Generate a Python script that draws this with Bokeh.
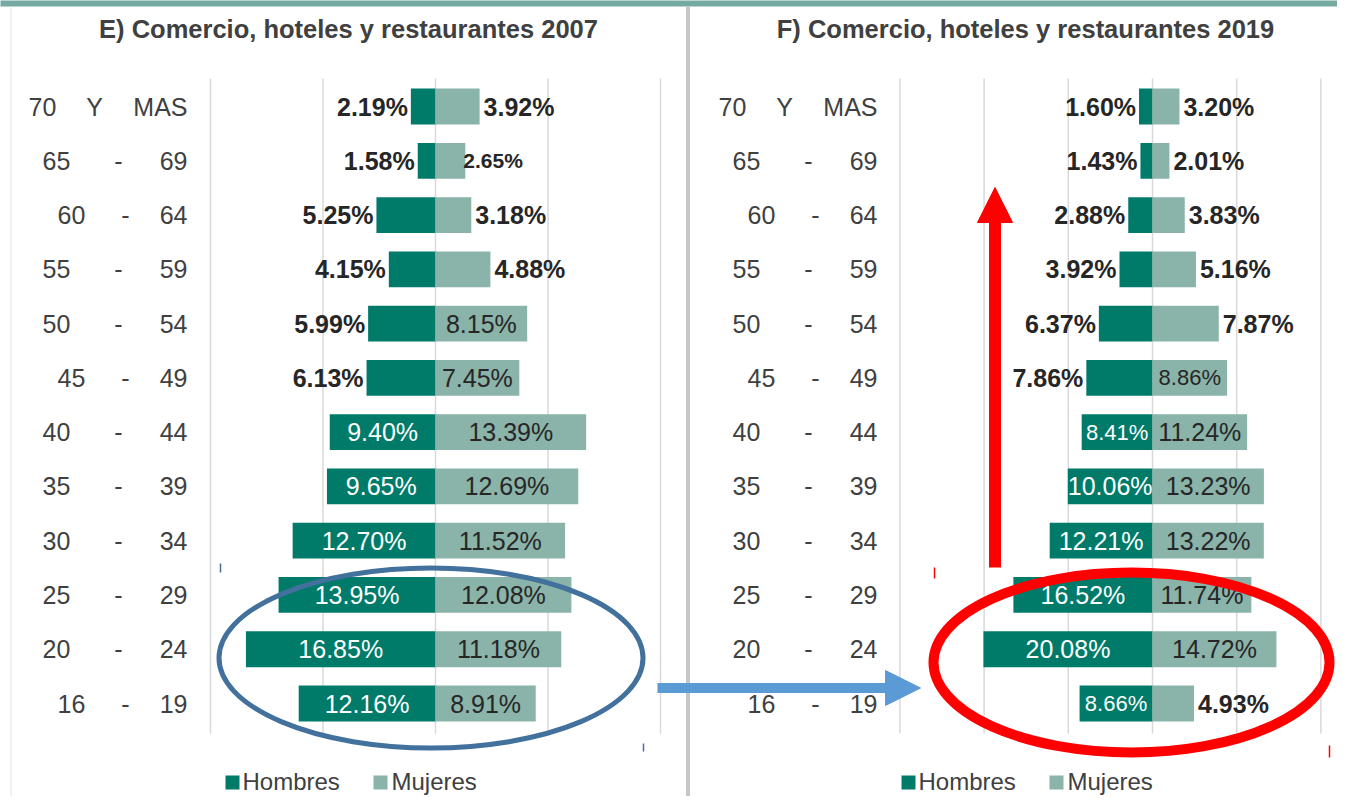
from bokeh.plotting import figure
from bokeh.models import Range1d, ColumnDataSource, Arrow, NormalHead
from bokeh.core.properties import value
from bokeh.embed import file_html
from bokeh.resources import INLINE

# ---------------- data (bottom row first) ----------------
age_lo = ["16", "20", "25", "30", "35", "40", "45", "50", "55", "60", "65", "70"]
age_sep = ["-", "-", "-", "-", "-", "-", "-", "-", "-", "-", "-", "Y"]
age_hi = ["19", "24", "29", "34", "39", "44", "49", "54", "59", "64", "69", "MAS"]

hombres_2007 = [12.16, 16.85, 13.95, 12.70, 9.65, 9.40, 6.13, 5.99, 4.15, 5.25, 1.58, 2.19]
mujeres_2007 = [8.91, 11.18, 12.08, 11.52, 12.69, 13.39, 7.45, 8.15, 4.88, 3.18, 2.65, 3.92]
hombres_2019 = [8.66, 20.08, 16.52, 12.21, 10.06, 8.41, 7.86, 6.37, 3.92, 2.88, 1.43, 1.60]
mujeres_2019 = [4.93, 14.72, 11.74, 13.22, 13.23, 11.24, 8.86, 7.87, 5.16, 3.83, 2.01, 3.20]

titles = ["E) Comercio, hoteles y restaurantes 2007", "F) Comercio, hoteles y restaurantes 2019"]
series_names = ["Hombres", "Mujeres"]

# label placement styles (layout, not data)
h07_mode = ["in", "in", "in", "in", "in", "in", "out", "out", "out", "out", "out", "out"]
m07_mode = ["in", "in", "in", "in", "in", "in", "in", "in", "out", "out", "out_s", "out"]
h19_mode = ["in_s", "in", "in", "in", "in", "in_s", "out", "out", "out", "out", "out", "out"]
m19_mode = ["out", "in", "in", "in", "in", "in", "in_s", "out", "out", "out", "out", "out"]
lo_indent = [15, 0, 0, 0, 0, 0, 15, 0, 0, 15, 0, -14]

grid_left = [-20, -10, 0, 10, 20]
grid_right = [-30, -20, -10, 0, 10, 20]

# ---------------- layout ----------------
C_H = "#007B69"
C_M = "#8AB3A9"
DARK = "#262626"
LBL = "#404040"
FONT = value("Liberation Sans")

W, H = 1337, 796
OFF = 0
L_C, L_S = 435.0, 11.25      # left panel centre px, px per %
R_C, R_S = 1152.0, 8.42      # right panel centre px, px per %
Y0, DY = 703.0, 54.27        # bottom row centre px, px per row
LEG_Y = 781


def lx(px):
    return (px - L_C) / L_S


def rx(px):
    return (px - R_C) / R_S


def ry(py):
    return (Y0 - py) / DY


p = figure(width=W, height=H, output_backend="svg", toolbar_location=None,
           x_range=Range1d(lx(OFF), lx(OFF + W)), y_range=Range1d(ry(OFF + H), ry(OFF)),
           x_axis_location=None, y_axis_location=None, min_border=0)
p.extra_x_ranges = {"r": Range1d(rx(OFF), rx(OFF + W))}
p.outline_line_color = None
p.grid.visible = False
p.background_fill_color = "white"
p.border_fill_color = "white"

# top band, divider, left border
p.quad(left=[lx(-10)], right=[lx(1400)], top=[ry(-5)], bottom=[ry(6)],
       fill_color="#76A9A0", line_color=None)
p.segment(x0=[lx(687.5)], x1=[lx(687.5)], y0=[ry(6)], y1=[ry(820)],
          line_color="#C6C6C6", line_width=4)
p.segment(x0=[lx(10.5)], x1=[lx(10.5)], y0=[ry(6)], y1=[ry(820)],
          line_color="#E2E2E2", line_width=1)

idx = list(range(len(age_lo)))
g_top, g_bot = ry(78), ry(733)


def panel(hv, mv, hmode, mmode, grid, rname, label_shift, title, title_cx, leg_x):
    kw = {} if rname is None else {"x_range_name": rname}
    # gridlines
    p.segment(x0=grid, x1=grid, y0=[g_bot] * len(grid), y1=[g_top] * len(grid),
              line_color="#D9D9D9", line_width=1.5, **kw)
    # bars
    p.hbar(y=idx, left=[-v for v in hv], right=[0] * len(hv), height=0.66,
           fill_color=C_H, line_color=None, **kw)
    p.hbar(y=idx, left=[0] * len(mv), right=mv, height=0.66,
           fill_color=C_M, line_color=None, **kw)
    # value labels
    d = dict(x=[], y=[], t=[], al=[], col=[], sz=[], st=[], xo=[])
    for i, (v, m) in enumerate(zip(hv, hmode)):
        d["y"].append(i); d["t"].append(f"{v:.2f}%")
        if m.startswith("in"):
            d["x"].append(-v / 2); d["al"].append("center"); d["col"].append("white")
            d["sz"].append("22px" if m == "in_s" else "25px"); d["st"].append("normal"); d["xo"].append(0)
        else:
            d["x"].append(-v); d["al"].append("right"); d["col"].append(DARK)
            d["sz"].append("25px"); d["st"].append("bold"); d["xo"].append(-3)
    for i, (v, m) in enumerate(zip(mv, mmode)):
        d["y"].append(i); d["t"].append(f"{v:.2f}%")
        if m.startswith("in"):
            d["x"].append(v / 2); d["al"].append("center"); d["col"].append(DARK)
            d["sz"].append("22px" if m == "in_s" else "25px"); d["st"].append("normal"); d["xo"].append(0)
        elif m == "out_s":
            d["x"].append(v); d["al"].append("left"); d["col"].append(DARK)
            d["sz"].append("21px"); d["st"].append("bold"); d["xo"].append(-2)
        else:
            d["x"].append(v); d["al"].append("left"); d["col"].append(DARK)
            d["sz"].append("25px"); d["st"].append("bold"); d["xo"].append(4)
    p.text(x="x", y="y", text="t", source=ColumnDataSource(d), text_align="al",
           text_color="col", text_font_size="sz", text_font_style="st", x_offset="xo",
           text_baseline="middle", text_font=FONT, **kw)
    # row labels
    lo_x = [lx(42 + label_shift + s) for s in lo_indent]
    sep_x = [lx((94 if s < 0 else 118 + s * 7 / 15) + label_shift) for s in lo_indent]
    p.text(x=lo_x, y=idx, text=age_lo, text_align="left", text_baseline="middle",
           text_font=FONT, text_font_size="25px", text_color=LBL)
    p.text(x=sep_x, y=idx, text=age_sep, text_align="center", text_baseline="middle",
           text_font=FONT, text_font_size="25px", text_color=LBL)
    p.text(x=[lx(187 + label_shift)] * len(idx), y=idx, text=age_hi, text_align="right",
           text_baseline="middle", text_font=FONT, text_font_size="25px", text_color=LBL)
    # title
    p.text(x=[lx(title_cx)], y=[ry(28)], text=[title], text_align="center",
           text_baseline="middle", text_font=FONT, text_font_size="25.5px",
           text_font_style="bold", text_color=LBL)
    # legend
    sq_x = [lx(leg_x), lx(leg_x + 148)]
    p.scatter(x=sq_x, y=[ry(LEG_Y + 1)] * 2, marker="square", size=14,
              fill_color=[C_H, C_M], line_color=None)
    p.text(x=[lx(leg_x + 10), lx(leg_x + 159)], y=[ry(LEG_Y)] * 2, text=series_names,
           text_align="left", text_baseline="middle", text_font=FONT,
           text_font_size="24px", text_color=LBL)


panel(hombres_2007, mujeres_2007, h07_mode, m07_mode, grid_left, None, 0,
      titles[0], 348, 232)
panel(hombres_2019, mujeres_2019, h19_mode, m19_mode, grid_right, "r", 690,
      titles[1], 1025, 908)

# annotations: ellipses
p.ellipse(x=[lx(430.5)], y=[ry(657.5)], width=[424 / L_S], height=[180 / DY],
          fill_color=None, line_color="#41719C", line_width=5)
p.ellipse(x=[rx(1131)], y=[ry(662)], width=[396 / R_S], height=[180 / DY],
          fill_color=None, line_color="#FF0000", line_width=10, x_range_name="r")

# small handle marks
p.segment(x0=[lx(220), lx(643)], x1=[lx(220), lx(643)], y0=[ry(563), ry(743)],
          y1=[ry(572), ry(751)], line_color="#41719C", line_width=1.5)
p.segment(x0=[lx(934), lx(1329)], x1=[lx(934), lx(1329)], y0=[ry(567), ry(745)],
          y1=[ry(578), ry(757)], line_color="#FF0000", line_width=1.5)

# arrows
p.add_layout(Arrow(x_start=lx(657), y_start=ry(687.5), x_end=lx(920), y_end=ry(687.5),
                   line_color="#5B9BD5", line_width=10,
                   end=NormalHead(size=35, fill_color="#5B9BD5", line_color="#5B9BD5")))
p.add_layout(Arrow(x_start=lx(994.5), y_start=ry(567), x_end=lx(994.5), y_end=ry(187),
                   line_color="#FF0000", line_width=12,
                   end=NormalHead(size=35, fill_color="#FF0000", line_color="#FF0000")))

open("out.html", "w").write(file_html(p, INLINE))
